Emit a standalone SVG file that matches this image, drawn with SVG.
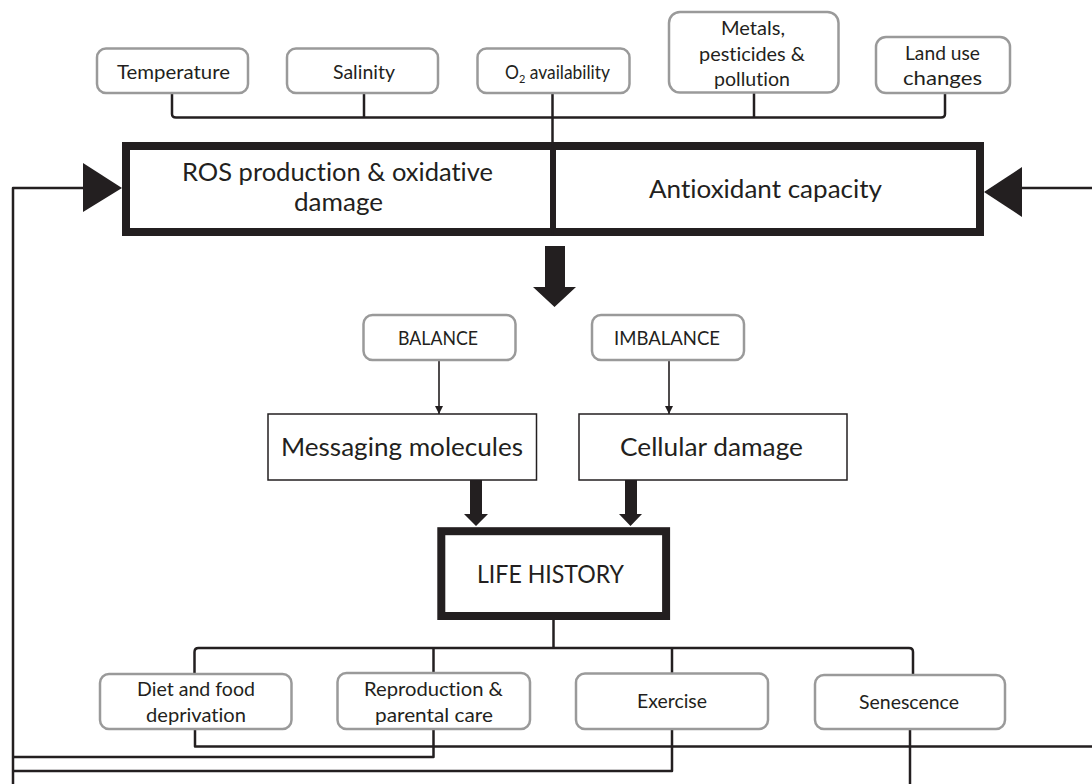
<svg xmlns="http://www.w3.org/2000/svg" width="1092" height="784" viewBox="0 0 1092 784">
<style>
.t{font-family:Lato,"Open Sans","Liberation Sans",sans-serif;fill:#231f20;font-variant-ligatures:none;font-feature-settings:"liga" 0}
.s{font-size:19px}
.l{font-size:24.5px}
.gb{fill:#fff;stroke:#9a9a9a;stroke-width:2.5}
.wb{fill:#fff;stroke:#231f20;stroke-width:1.5}
.tb{fill:#fff;stroke:#231f20;stroke-width:8}
.c{fill:none;stroke:#231f20;stroke-width:2.5;stroke-linejoin:round}
.thin{fill:none;stroke:#231f20;stroke-width:1.6}
.fill{fill:#231f20;stroke:none}
</style>
<defs>
<marker id="ah" viewBox="0 0 10 10" refX="10" refY="5" markerWidth="8" markerHeight="8" markerUnits="userSpaceOnUse" orient="auto">
<path d="M0,0 L10,5 L0,10 Z" fill="#231f20"/>
</marker>
</defs>

<g id="connectors">
<path class="c" d="M172,93 V114 Q172,117.5 176,117.5 H941 Q945,117.5 945,114 V93"/>
<path class="c" d="M364,93 V117.5"/>
<path class="c" d="M754,92 V117.5"/>
<path class="c" d="M552.5,93 V146"/>
<polygon class="fill" points="545,246 565,246 565,287 576,287 554.5,307 533,287 545,287"/>
<line class="thin" x1="439" y1="360" x2="439" y2="414" marker-end="url(#ah)"/>
<line class="thin" x1="669" y1="360" x2="669" y2="414" marker-end="url(#ah)"/>
<polygon class="fill" points="470,480 482,480 482,514 488,514 476,526 464,514 470,514"/>
<polygon class="fill" points="625,480 637,480 637,514 642,514 630.5,526 619,514 625,514"/>
<path class="c" d="M553.5,620 V648"/>
<path class="c" d="M194.5,674 V652 Q194.5,648 198.5,648 H909 Q913,648 913,652 V675"/>
<path class="c" d="M433.5,648 V673"/>
<path class="c" d="M672,648 V673"/>
<path class="c" d="M195,729 V746.5 H1092"/>
<path class="c" d="M433.5,729 V757 H13"/>
<path class="c" d="M672,729 V771 H13"/>
<path class="c" d="M910,729 V784"/>
<path class="c" d="M13,784 V188 H84"/>
<polygon class="fill" points="83,163 122,188 83,212"/>
<path class="c" d="M1092,188 H1021"/>
<polygon class="fill" points="1022,167 984,192 1022,217"/>
</g>

<g id="temperature">
<rect class="gb" x="97" y="48.5" width="151" height="44.5" rx="9"/>
<text class="t s" x="117" y="79" textLength="113" lengthAdjust="spacingAndGlyphs">Temperature</text>
</g>
<g id="salinity">
<rect class="gb" x="287" y="48.5" width="151" height="44.5" rx="9"/>
<text class="t s" x="333" y="79" textLength="62" lengthAdjust="spacingAndGlyphs">Salinity</text>
</g>
<g id="o2">
<rect class="gb" x="477.5" y="48.5" width="152" height="44.5" rx="9"/>
<text class="t s" x="505" y="79" textLength="105" lengthAdjust="spacingAndGlyphs">O<tspan font-size="12" dy="4">2</tspan><tspan dy="-4"> availability</tspan></text>
</g>
<g id="metals">
<rect class="gb" x="669" y="12" width="169.5" height="80.5" rx="11"/>
<text class="t s" x="721" y="35" textLength="64" lengthAdjust="spacingAndGlyphs">Metals,</text>
<text class="t s" x="699" y="61" textLength="106" lengthAdjust="spacingAndGlyphs">pesticides &amp;</text>
<text class="t s" x="714" y="86" textLength="76" lengthAdjust="spacingAndGlyphs">pollution</text>
</g>
<g id="landuse">
<rect class="gb" x="876" y="37" width="134" height="56" rx="10"/>
<text class="t s" x="905" y="60" textLength="75" lengthAdjust="spacingAndGlyphs">Land use</text>
<text class="t s" x="903" y="85" textLength="79" lengthAdjust="spacingAndGlyphs">changes</text>
</g>

<g id="ros">
<path class="tb" d="M552.5,146 H126 V232 H552.5" fill="#fff"/>
<text class="t l" x="182" y="181" textLength="311" lengthAdjust="spacingAndGlyphs">ROS production &amp; oxidative</text>
<text class="t l" x="294" y="211" textLength="89" lengthAdjust="spacingAndGlyphs">damage</text>
</g>
<g id="antioxidant">
<path class="tb" d="M552.5,146 H980 V232 H552.5" fill="#fff"/>
<line x1="553" y1="146" x2="553" y2="232" stroke="#231f20" stroke-width="6"/>
<line x1="552.5" y1="142" x2="552.5" y2="236" stroke="#231f20" stroke-width="2.5"/>
<text class="t l" x="649" y="198" textLength="233" lengthAdjust="spacingAndGlyphs">Antioxidant capacity</text>
</g>

<g id="balance">
<rect class="gb" x="363.5" y="315" width="152" height="45" rx="9"/>
<text class="t s" x="398" y="345" textLength="80" lengthAdjust="spacingAndGlyphs">BALANCE</text>
</g>
<g id="imbalance">
<rect class="gb" x="592" y="315" width="152" height="45" rx="9"/>
<text class="t s" x="614" y="345" textLength="106" lengthAdjust="spacingAndGlyphs">IMBALANCE</text>
</g>
<g id="messaging">
<rect class="wb" x="268" y="414" width="268.5" height="66"/>
<text class="t l" x="281" y="456" textLength="242" lengthAdjust="spacingAndGlyphs">Messaging molecules</text>
</g>
<g id="cellular">
<rect class="wb" x="579" y="414" width="268" height="66"/>
<text class="t l" x="620" y="456" textLength="183" lengthAdjust="spacingAndGlyphs">Cellular damage</text>
</g>
<g id="lifehistory">
<rect class="tb" x="441.3" y="531.2" width="224.8" height="84.8"/>
<text class="t l" x="477" y="583" textLength="147" lengthAdjust="spacingAndGlyphs">LIFE HISTORY</text>
</g>

<g id="diet">
<rect class="gb" x="100" y="674" width="191.5" height="55" rx="9"/>
<text class="t s" x="137" y="696" textLength="118" lengthAdjust="spacingAndGlyphs">Diet and food</text>
<text class="t s" x="146" y="722" textLength="100" lengthAdjust="spacingAndGlyphs">deprivation</text>
</g>
<g id="reproduction">
<rect class="gb" x="337.5" y="673" width="192.5" height="56" rx="9"/>
<text class="t s" x="364" y="696" textLength="139" lengthAdjust="spacingAndGlyphs">Reproduction &amp;</text>
<text class="t s" x="375" y="722" textLength="118" lengthAdjust="spacingAndGlyphs">parental care</text>
</g>
<g id="exercise">
<rect class="gb" x="576" y="673.5" width="192" height="55.5" rx="9"/>
<text class="t s" x="637" y="708" textLength="70" lengthAdjust="spacingAndGlyphs">Exercise</text>
</g>
<g id="senescence">
<rect class="gb" x="815" y="675" width="190" height="54" rx="9"/>
<text class="t s" x="859" y="709" textLength="100" lengthAdjust="spacingAndGlyphs">Senescence</text>
</g>
</svg>
